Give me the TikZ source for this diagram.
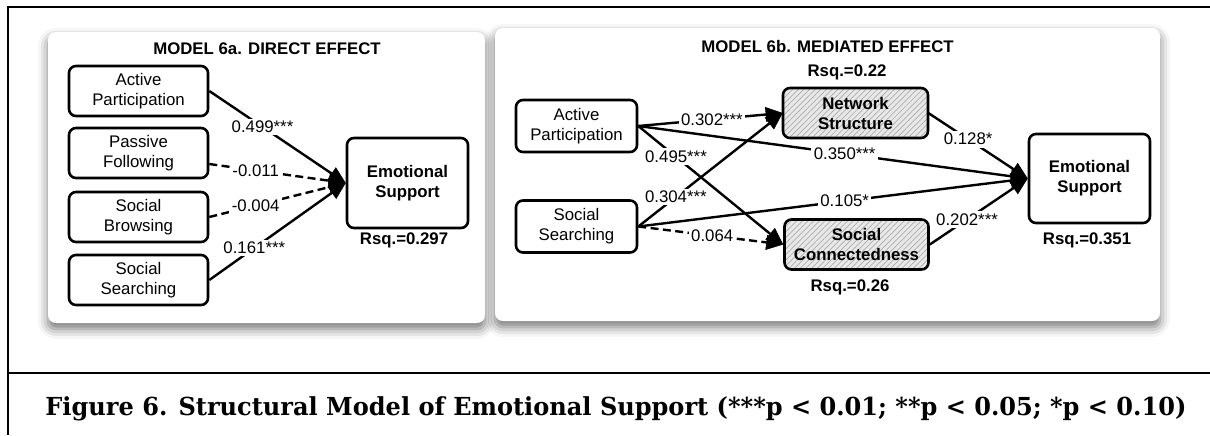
\documentclass[tikz,border=0pt]{standalone}
\usepackage{fontspec}
\setmainfont{Liberation Sans}
\newfontfamily\capfont[FakeStretch=0.97]{DejaVu Serif}
\usepackage{tikz}
\usetikzlibrary{arrows.meta,positioning,shadows.blur,patterns.meta}

\tikzset{
  var/.style={draw, line width=1.3pt, rounded corners=3.5pt, align=center, inner sep=0pt},
  outvar/.style={var, font=\fontsize{8.4}{10}\selectfont\bfseries},
  medvar/.style={outvar, preaction={fill=gray!18},
    pattern={Lines[angle=45,distance=2pt,line width=0.35pt]}, pattern color=gray!65},
  panel/.style={fill=white, rounded corners=4pt,
    blur shadow={shadow xshift=0pt, shadow yshift=-3pt, shadow blur radius=5pt, shadow opacity=55}},
  path/.style={line width=1.2pt, draw=black,
    -{Triangle[length=8.5pt,width=7.5pt,line width=0.3pt,color=black,fill=black]}},
  nspath/.style={path, dash pattern=on 4pt off 2.2pt},
  coef/.style={fill=white, inner sep=1.2pt},
  rsq/.style={font=\fontsize{8.4}{10}\selectfont\bfseries}
}

\begin{document}
\begin{tikzpicture}[x=0.5pt, y=-0.5pt, font=\fontsize{8.4}{10}\selectfont]
\useasboundingbox (0,0) rectangle (1210,435);

% frame
\draw [line width=1.1pt] (1210,7) -- (8,7) -- (8,435);
\draw [line width=1.1pt] (8,373) -- (1210,373);

% panels
\fill [panel] (48,32) rectangle (485,323);
\fill [panel] (495,28) rectangle (1160,321);

% model 6a
\node [rsq] (t1) at (267,49) {MODEL 6a. DIRECT EFFECT};
\node [var, minimum width=69.5pt, minimum height=25pt] (ap1) at (138.5,91) {Active\\Participation};
\node [var, minimum width=69.5pt, minimum height=25pt] (pf1) at (138.5,153) {Passive\\Following};
\node [var, minimum width=69.5pt, minimum height=25pt] (sb1) at (138.5,217) {Social\\Browsing};
\node [var, minimum width=69.5pt, minimum height=25pt] (ss1) at (138.5,280) {Social\\Searching};
\node [outvar, minimum width=60.5pt, minimum height=45pt] (es1) at (407.5,183) {Emotional\\Support};
\node [rsq] (r1) at (404,240) {Rsq.=0.297};

\draw [path] (ap1.east) -- node[coef, pos=0.39] {0.499***} (es1.west);
\draw [nspath] ([yshift=-5.5pt]pf1.east) -- node[coef, pos=0.34] {-0.011} (es1.west);
\draw [nspath] (sb1.east) -- node[coef, pos=0.34] {-0.004} (es1.west);
\draw [path] (ss1.east) -- node[coef, pos=0.33] {0.161***} (es1.west);

% model 6b
\node [rsq] (t2) at (827.5,46) {MODEL 6b. MEDIATED EFFECT};
\node [var, minimum width=60.5pt, minimum height=26pt] (ap2) at (576.5,126) {Active\\Participation};
\node [var, minimum width=60.5pt, minimum height=26pt] (ss2) at (576.5,226.5) {Social\\Searching};
\node [medvar, minimum width=72.5pt, minimum height=25pt] (ns2) at (855.5,113) {Network\\Structure};
\node [medvar, minimum width=72pt, minimum height=25pt] (sc2) at (856.5,244.5) {Social\\Connectedness};
\node [outvar, minimum width=60.5pt, minimum height=44.5pt] (es2) at (1089.5,178.5) {Emotional\\Support};
\node [rsq] (r2) at (847,72) {Rsq.=0.22};
\node [rsq] (r3) at (850,287) {Rsq.=0.26};
\node [rsq] (r4) at (1087,240) {Rsq.=0.351};

\draw [path] (ap2.east) -- node[coef, pos=0.51] {0.302***} (ns2.west);
\draw [path] (ss2.east) -- node[coef, pos=0.26] {0.304***} (ns2.west);
\draw [path] (ap2.east) -- node[coef, pos=0.26] {0.495***} (sc2.west);
\draw [nspath] (ss2.east) -- node[coef, pos=0.51] {0.064} (sc2.west);
\draw [path] (ap2.east) -- node[coef, pos=0.53] {0.350***} (es2.west);
\draw [path] (ss2.east) -- node[coef, pos=0.53] {0.105*} (es2.west);
\draw [path] (ns2.east) -- node[coef, pos=0.40] {0.128*} (es2.west);
\draw [path] (sc2.east) -- node[coef, pos=0.38] {0.202***} (es2.west);

% caption
\node [anchor=base west, inner sep=0pt, font=\capfont\bfseries\fontsize{12.4}{14}\selectfont] (cap) at (45,415)
  {Figure 6. Structural Model of Emotional Support (***p < 0.01; **p < 0.05; *p < 0.10)};
\end{tikzpicture}
\end{document}
